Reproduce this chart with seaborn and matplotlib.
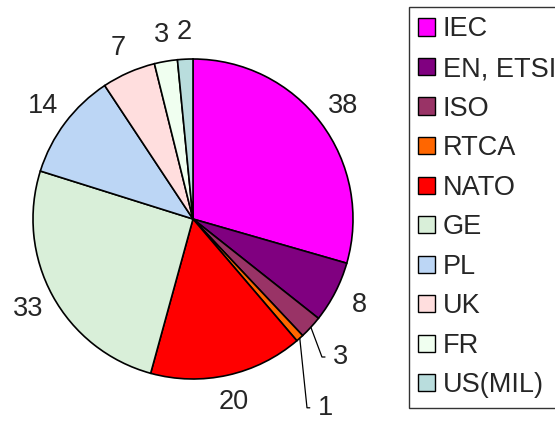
import numpy as np
import matplotlib
matplotlib.use("Agg")
import matplotlib.pyplot as plt
import seaborn as sns

categories = ["IEC", "EN, ETSI", "ISO", "RTCA", "NATO", "GE", "PL", "UK", "FR", "US(MIL)"]
values = [38, 8, 3, 1, 20, 33, 14, 7, 3, 2]
colors = ["#FF00FF", "#800080", "#993366", "#FF6600", "#FF0000",
          "#D9EFD9", "#BCD6F5", "#FFDEDE", "#F0FFF0", "#B9DDDD"]

sns.set_theme(style="white")
plt.rcParams['font.family'] = ['Liberation Sans', 'DejaVu Sans']

W, H = 555, 426
fig = plt.figure(figsize=(W / 100, H / 100), dpi=100)
fig.patch.set_facecolor("white")
cx, cy, r = 193, 219, 160
ax = fig.add_axes([(cx - r) / W, (H - cy - r) / H, 2 * r / W, 2 * r / H])
ax.set_facecolor("none")

wedges, _ = ax.pie(values, colors=colors, startangle=90, counterclock=False,
                   radius=1.0, wedgeprops=dict(edgecolor="black", linewidth=1.2))
ax.set_xlim(-1.0, 1.0)
ax.set_ylim(-1.0, 1.0)
ax.set_aspect("equal")
ax.axis("off")

fs = 19.5
# leader-line labels for tiny slices: (bend x, bend y, text x)
leaders = {2: (0.806, -0.8625, 0.875), 3: (0.7125, -1.18, 0.78)}
for i, (w, v) in enumerate(zip(wedges, values)):
    ang = np.deg2rad((w.theta1 + w.theta2) / 2)
    if i in leaders:
        bx, by, tx = leaders[i]
        ex, ey = np.cos(ang), np.sin(ang)
        ax.plot([ex, bx, tx - 0.05], [ey, by, by], color="black", lw=0.9,
                clip_on=False)
        ax.text(tx, by, str(v), ha="left", va="center", fontsize=fs,
                clip_on=False)
    else:
        d = 1.17
        ax.text(d * np.cos(ang), d * np.sin(ang), str(v), ha="center",
                va="center", fontsize=fs, clip_on=False)

leg = fig.legend(wedges, categories, loc="upper left",
                 bbox_to_anchor=(409 / W, 1 - 7 / H),
                 fontsize=fs, frameon=True, fancybox=False, shadow=False,
                 handlelength=0.6, handleheight=0.6, handletextpad=0.3,
                 labelspacing=0.5, borderpad=0.35, borderaxespad=0)
leg.get_frame().set_edgecolor("black")
leg.get_frame().set_linewidth(1.0)
for h in leg.legend_handles:
    h.set_linewidth(1.0)

fig.savefig("out.png", dpi=100)
